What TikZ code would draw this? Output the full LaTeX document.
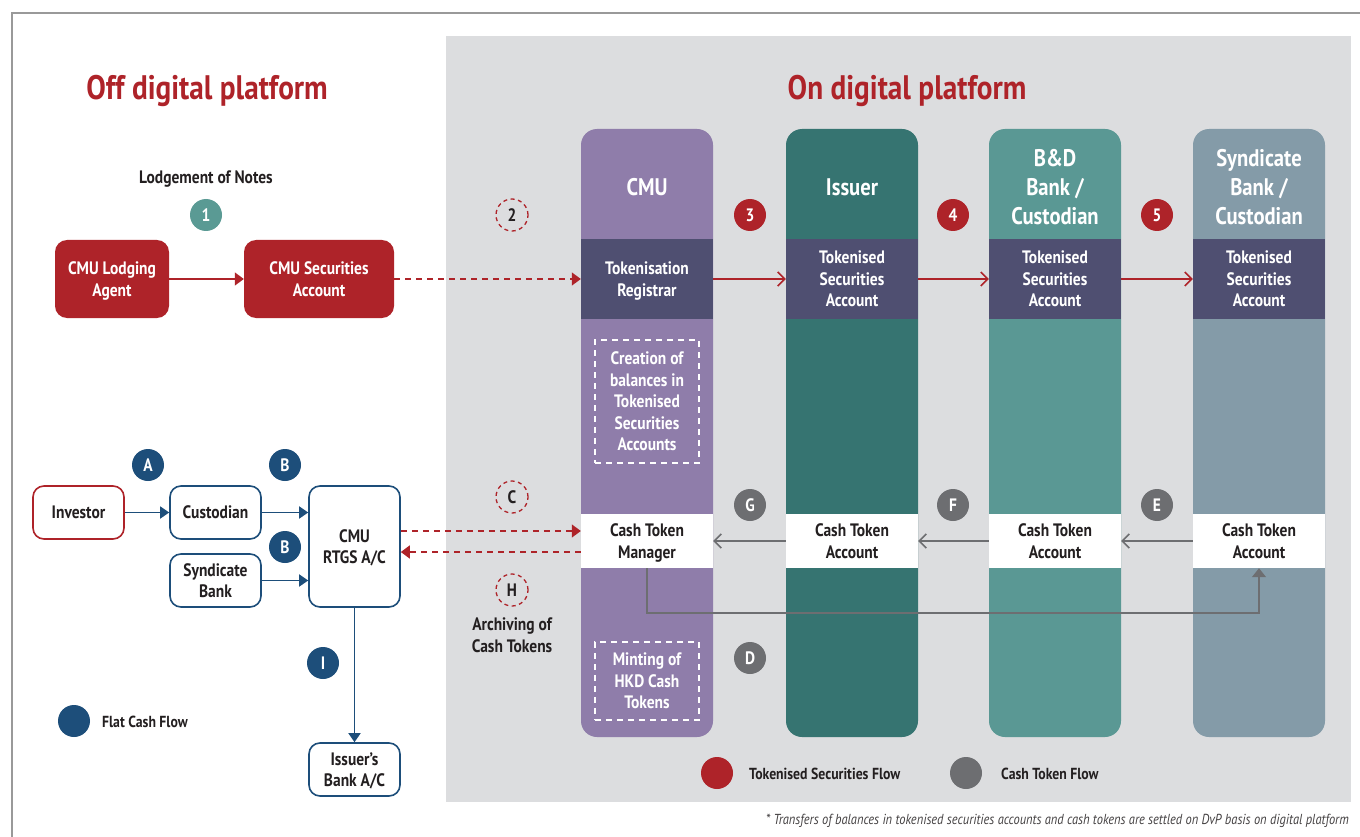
\documentclass[tikz,border=0pt]{standalone}
\usepackage{fontspec}
\setmainfont{PT Sans}[FakeStretch=0.86]
\usetikzlibrary{arrows.meta}

\definecolor{boxred}{HTML}{AE2329}
\definecolor{navy}{HTML}{1D4E7A}
\definecolor{tealone}{HTML}{5A9A94}
\definecolor{flowgray}{HTML}{6D6E71}
\definecolor{panelgray}{HTML}{DCDDDF}
\definecolor{cmupurple}{HTML}{8F7DAA}
\definecolor{slate}{HTML}{4F4F71}
\definecolor{darkteal}{HTML}{367471}
\definecolor{midteal}{HTML}{5A9894}
\definecolor{bluegray}{HTML}{849BA8}
\definecolor{inktext}{HTML}{231F20}

\tikzset{
  txt/.style={font=\bfseries\fontsize{18}{21.5}\selectfont, align=center, inner sep=0pt},
  label/.style={txt, text=inktext, yshift=-2pt},
  redbox/.style={txt, fill=boxred, text=white, rounded corners=12pt,
    minimum width=#1, minimum height=78pt, text depth=0pt},
  navybox/.style={txt, draw=navy, line width=1.6pt, fill=white, text=inktext,
    rounded corners=11pt, minimum width=91pt, minimum height=#1, text depth=0pt},
  column/.style={fill=#1, rounded corners=16pt, minimum width=132pt,
    minimum height=608pt, inner sep=0pt},
  header/.style={txt, text=white, font=\bfseries\fontsize{24}{29}\selectfont},
  band/.style={txt, fill=#1, minimum width=132pt, minimum height=80pt, text depth=0pt},
  cashband/.style={txt, fill=white, text=inktext, minimum width=132pt,
    minimum height=54pt, text depth=0pt},
  dashbox/.style={txt, draw=white, dash pattern=on 6pt off 5pt, line width=1.3pt, text=white,
    minimum width=104pt, minimum height=#1, text depth=0pt},
  marker/.style={circle, fill=#1, text=white, inner sep=0pt, minimum size=32pt,
    font=\bfseries\fontsize{18}{18}\selectfont},
  dashmarker/.style={circle, draw=boxred, dash pattern=on 4pt off 3.5pt, line width=1.3pt, text=inktext,
    inner sep=0pt, minimum size=32pt, font=\bfseries\fontsize{18}{18}\selectfont},
  legendtext/.style={txt, text=inktext, anchor=west, font=\bfseries\fontsize{16}{16}\selectfont},
  redflow/.style={draw=boxred, line width=1.5pt},
  reddash/.style={redflow, dash pattern=on 6pt off 5pt},
  navyflow/.style={draw=navy, line width=1.6pt, -{Triangle[length=9pt,width=12pt]}},
  grayflow/.style={draw=flowgray, line width=1.6pt},
}

\begin{document}
\begin{tikzpicture}[%
      x=1pt, y=-1pt,
      ]
      \useasboundingbox (0,0) rectangle (1360,837);
      \draw [color=gray!80, line width=1.2pt] (12,837) -- (12,13) -- (1360,13);
      \fill [panelgray] (446,36) rectangle (1351,802);

      \node [txt, text=boxred, font=\bfseries\fontsize{34}{34}\selectfont] (offtitle) at (207,91) {Off digital platform};
      \node [txt, text=boxred, font=\bfseries\fontsize{34}{34}\selectfont] (ontitle) at (907,91) {On digital platform};

      \node [label] (lodgement) at (206,177) {Lodgement of Notes};
      \node [marker=tealone] (m1) at (206,215) {1};
      \node [redbox=114pt] (lodging) at (112,279) {CMU Lodging\\Agent};
      \node [redbox=150pt] (secacc) at (319,279) {CMU Securities\\Account};

      \node [column=cmupurple] (cmucol) at (647,433) {};
      \node [column=darkteal] (isscol) at (852,433) {};
      \node [column=midteal] (bdcol) at (1055,433) {};
      \node [column=bluegray] (syncol) at (1259,433) {};

      \node [header] (cmuhead) at (647,187) {CMU};
      \node [header] (isshead) at (852,187) {Issuer};
      \node [header] (bdhead) at (1055,187) {B\&D\\Bank /\\Custodian};
      \node [header] (synhead) at (1259,187) {Syndicate\\Bank /\\Custodian};

      \node [band=slate, text=white] (registrar) at (647,279) {Tokenisation\\Registrar};
      \node [band=slate, text=white] (tokone) at (852,279) {Tokenised\\Securities\\Account};
      \node [band=slate, text=white] (toktwo) at (1055,279) {Tokenised\\Securities\\Account};
      \node [band=slate, text=white] (tokthree) at (1259,279) {Tokenised\\Securities\\Account};

      \node [cashband] (ctm) at (647,541) {Cash Token\\Manager};
      \node [cashband] (cashone) at (852,541) {Cash Token\\Account};
      \node [cashband] (cashtwo) at (1055,541) {Cash Token\\Account};
      \node [cashband] (cashthree) at (1259,541) {Cash Token\\Account};

      \node [dashbox=123pt] (creation) at (647,401.5) {Creation of\\balances in\\Tokenised\\Securities\\Accounts};
      \node [dashbox=78pt] (minting) at (647,681) {Minting of\\HKD Cash\\Tokens};

      \node [dashmarker] (m2) at (512,215) {2};
      \node [marker=boxred] (m3) at (750,215) {3};
      \node [marker=boxred] (m4) at (953,215) {4};
      \node [marker=boxred] (m5) at (1157,215) {5};
      \node [dashmarker] (mc) at (512,497) {C};
      \node [dashmarker] (mh) at (512,590) {H};
      \node [label] (archiving) at (512,633) {Archiving of\\Cash Tokens};
      \node [marker=flowgray] (mg) at (750,505) {G};
      \node [marker=flowgray] (mf) at (953,505) {F};
      \node [marker=flowgray] (me) at (1157,505) {E};
      \node [marker=flowgray] (md) at (750,658) {D};

      \node [navybox=53pt, draw=boxred] (investor) at (78.5,512.5) {Investor};
      \node [navybox=53pt] (custodian) at (215.5,512.5) {Custodian};
      \node [navybox=53pt] (synbank) at (215.5,580.5) {Syndicate\\Bank};
      \node [navybox=121pt] (rtgs) at (354.5,546.5) {CMU\\RTGS A/C};
      \node [navybox=53pt] (issbank) at (354.5,769.5) {Issuer's\\Bank A/C};
      \node [marker=navy] (ma) at (148,465) {A};
      \node [marker=navy] (mb) at (285,465) {B};
      \node [marker=navy] (mbb) at (285,547) {B};
      \node [marker=navy] (mi) at (323,663) {I};

      \node [marker=navy] (navylegend) at (74,721) {};
      \node [legendtext] (navylegendtext) at (102,722) {Flat Cash Flow};
      \node [marker=boxred] (redlegend) at (717,773) {};
      \node [legendtext] (redlegendtext) at (749,774) {Tokenised Securities Flow};
      \node [marker=flowgray] (graylegend) at (966,773) {};
      \node [legendtext] (graylegendtext) at (1001,774) {Cash Token Flow};
      \node [txt, text=inktext!85, anchor=east, font=\itshape\fontsize{14.5}{14.5}\selectfont] (footnote) at (1349,821) {* Transfers of balances in tokenised securities accounts and cash tokens are settled on DvP basis on digital platform};

      \draw [redflow, -{Triangle[length=9pt,width=13pt]}] (lodging) -- (secacc);
      \draw [reddash, -{Triangle[length=9pt,width=13pt]}] (secacc) -- (registrar);
      \draw [redflow, -{Straight Barb[length=7pt,width=14pt]}] (registrar) -- (tokone);
      \draw [redflow, -{Straight Barb[length=7pt,width=14pt]}] (tokone) -- (toktwo);
      \draw [redflow, -{Straight Barb[length=7pt,width=14pt]}] (toktwo) -- (tokthree);
      \draw [reddash, -{Triangle[length=9pt,width=13pt]}] ([yshift=10pt]ctm.west -| rtgs.east) -- ([yshift=10pt]ctm.west);
      \draw [reddash, -{Triangle[length=9pt,width=13pt]}] ([yshift=-11pt]ctm.west) -- ([yshift=-11pt]ctm.west -| rtgs.east);

      \draw [grayflow, -{Straight Barb[length=7pt,width=14pt]}] (cashone) -- (ctm);
      \draw [grayflow, -{Straight Barb[length=7pt,width=14pt]}] (cashtwo) -- (cashone);
      \draw [grayflow, -{Straight Barb[length=7pt,width=14pt]}] (cashthree) -- (cashtwo);
      \draw [grayflow, -{Triangle[length=9pt,width=14pt]}] (ctm.south) -- ++(0,45) -| (cashthree.south);

      \draw [navyflow] (investor) -- (custodian);
      \draw [navyflow] (custodian.east) -- (custodian.east -| rtgs.west);
      \draw [navyflow] (synbank.east) -- (synbank.east -| rtgs.west);
      \draw [navyflow] (rtgs) -- (issbank);
      \end{tikzpicture}
\end{document}
